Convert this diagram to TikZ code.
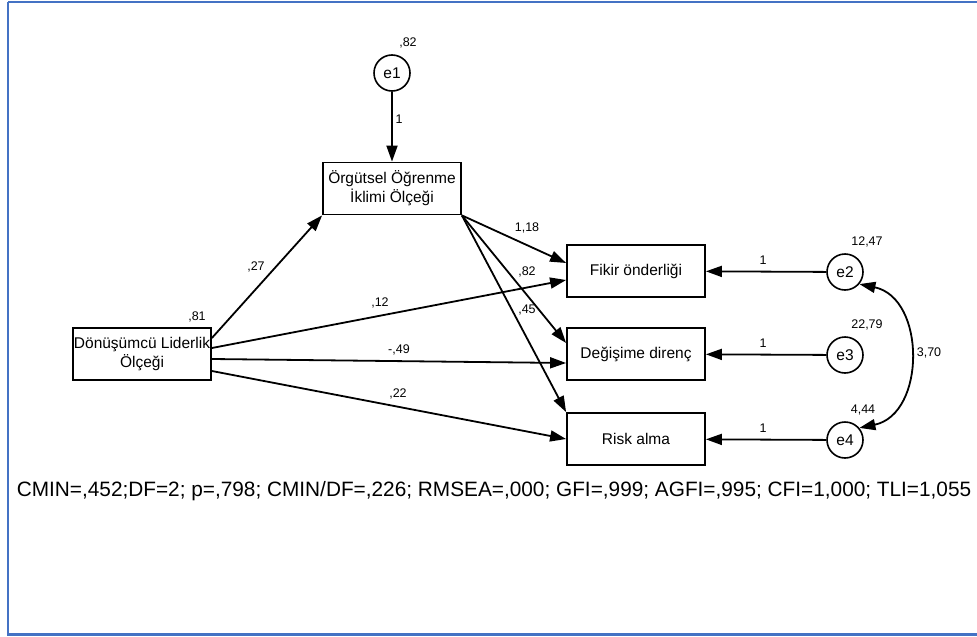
\documentclass[tikz,border=0pt]{standalone}
\usepackage{fontspec}
\setmainfont{Liberation Sans}
\usetikzlibrary{arrows.meta,calc}
\definecolor{framecol}{RGB}{68,114,196}
\begin{document}
\begin{tikzpicture}[x=1pt,y=-1pt,
  box/.style={draw,line width=1.8pt,inner sep=0pt,minimum width=138pt,minimum height=52pt,align=center,font=\fontsize{15.5}{19}\selectfont},
  err/.style={draw,circle,line width=1.6pt,inner sep=0pt,minimum size=36pt,font=\fontsize{15.5}{19}\selectfont},
  lab/.style={inner sep=0pt,font=\fontsize{12.5}{14}\selectfont},
  path/.style={line width=1.8pt,-{Triangle[length=16pt,width=11pt]}},
  cov/.style={line width=1.8pt,{Triangle[length=16pt,width=11pt]}-{Triangle[length=16pt,width=11pt]}}]
\useasboundingbox (0,0) rectangle (977,637);
\draw[framecol,line width=2.8pt] (8,2) -- (990,2) (8,2) -- (8,634.5) -- (990,634.5);
% nodes
\node[box] (org) at (392,188.5) {Örgütsel Öğrenme\\İklimi Ölçeği};
\node[box] (don) at (142,354) {Dönüşümcü Liderlik\\Ölçeği};
\node[box] (fikir) at (636,271) {Fikir önderliği};
\node[box] (deg) at (636,354) {Değişime direnç};
\node[box] (risk) at (636,439) {Risk alma};
\node[err] (e1) at (392,73) {e1};
\node[err] (e2) at (845,272) {e2};
\node[err] (e3) at (845,355) {e3};
\node[err] (e4) at (845,440) {e4};
% connectors
\draw[path] (e1) -- (org);
\draw[path] ([yshift=16pt]don.east) -- (org.south west);
\draw[path] ([yshift=6pt]don.east) -- ([yshift=-9pt]fikir.west);
\draw[path] ([yshift=-5pt]don.east) -- ([yshift=-9pt]deg.west);
\draw[path] ([yshift=-17pt]don.east) -- (risk.west);
\draw[path] (org.south east) -- ([yshift=8pt]fikir.west);
\draw[path] (org.south east) -- ([yshift=11pt]deg.west);
\draw[path] (org.south east) -- (risk.north west);
\draw[path] (e2) -- (fikir);
\draw[path] (e3) -- (deg);
\draw[path] (e4) -- (risk);
\draw[cov] (e2.-40) .. controls (926,298) and (926,414) .. (e4.40);
% labels
\node[lab] (l82) at (408,43) {,82};
\node[lab] (l1a) at (399,119) {1};
\node[lab] (l81) at (197,317) {,81};
\node[lab] (l27) at (256,267) {,27};
\node[lab] (l12) at (380,303) {,12};
\node[lab] (l49) at (399,350) {-,49};
\node[lab] (l22) at (398,394) {,22};
\node[lab] (l118) at (527,228) {1,18};
\node[lab] (l82b) at (527,272) {,82};
\node[lab] (l45) at (527,310) {,45};
\node[lab] (l1247) at (867,242) {12,47};
\node[lab] (l2279) at (867,325) {22,79};
\node[lab] (l444) at (863,410) {4,44};
\node[lab] (l370) at (929,353) {3,70};
\node[lab] (l1b) at (763,260) {1};
\node[lab] (l1c) at (763,343) {1};
\node[lab] (l1d) at (763,428) {1};
\node[inner sep=0pt,font=\fontsize{20.8}{24}\selectfont] (fit) at (494,491) {CMIN=,452;DF=2; p=,798; CMIN/DF=,226; RMSEA=,000; GFI=,999; AGFI=,995; CFI=1,000; TLI=1,055};
\end{tikzpicture}
\end{document}
